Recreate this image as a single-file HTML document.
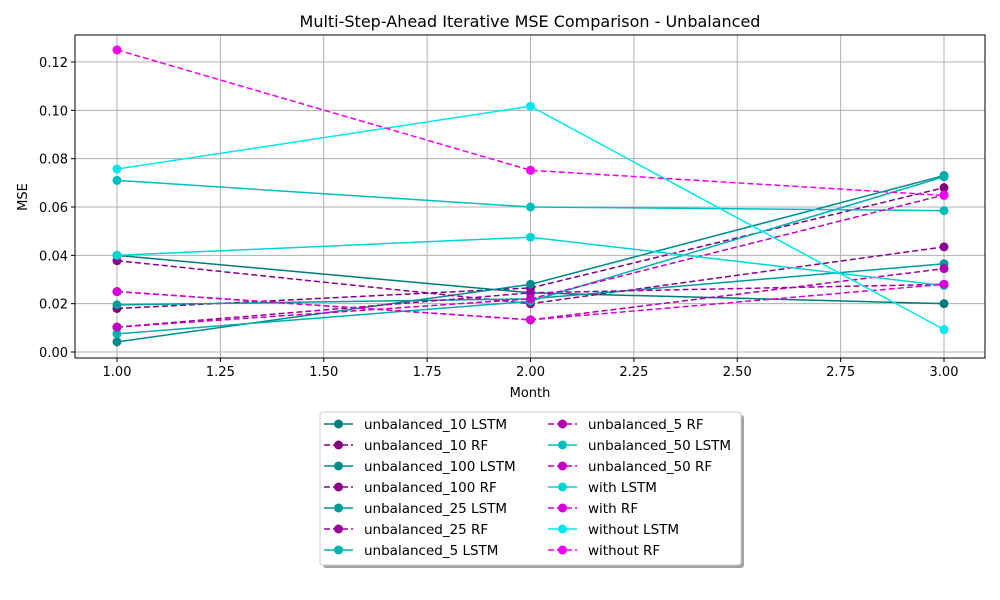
<!DOCTYPE html>
<html><head><meta charset="utf-8"><style>
body{margin:0;background:#fff;}
svg{font-family:"DejaVu Sans","Liberation Sans",sans-serif;display:block}
</style></head><body>
<svg id="chart" width="1000" height="600" viewBox="0 0 1000 600">
<rect width="1000" height="600" fill="#fff"/>
<text x="530" y="27" font-size="16" text-anchor="middle">Multi-Step-Ahead Iterative MSE Comparison - Unbalanced</text>
<g id="grid"></g>
<g id="series"></g>
<rect x="75" y="35" width="910" height="323" fill="none" stroke="#000" stroke-width="1"/>
<g id="ticks" font-size="13"></g>
<text x="530" y="397" font-size="13" text-anchor="middle">Month</text>
<text x="27" y="197" font-size="13" text-anchor="middle" transform="rotate(-90 27 197)">MSE</text>
<g id="legend">
<rect x="323" y="415" width="421" height="153" rx="3" fill="#999" opacity="0.9"/>
<rect x="320" y="412" width="421" height="153" rx="3" fill="#fff" stroke="#ccc"/>
</g>
</svg>
<script>
const months=[1,2,3];
const names=["unbalanced_10 LSTM","unbalanced_10 RF","unbalanced_100 LSTM","unbalanced_100 RF","unbalanced_25 LSTM","unbalanced_25 RF","unbalanced_5 LSTM","unbalanced_5 RF","unbalanced_50 LSTM","unbalanced_50 RF","with LSTM","with RF","without LSTM","without RF"];
const u10L=[0.040,0.0245,0.020];
const u10R=[0.018,0.0265,0.068];
const u100L=[0.0042,0.028,0.073];
const u100R=[0.0378,0.020,0.0435];
const u25L=[0.0195,0.022,0.0365];
const u25R=[0.0103,0.0245,0.028];
const u5L=[0.0075,0.021,0.0725];
const u5R=[0.025,0.0133,0.0345];
const u50L=[0.071,0.060,0.0585];
const u50R=[0.0103,0.022,0.065];
const withL=[0.040,0.0475,0.0275];
const withR=[0.025,0.0133,0.028];
const withoutL=[0.0757,0.1017,0.0093];
const withoutR=[0.125,0.0752,0.0648];
const xTicks=[1.00,1.25,1.50,1.75,2.00,2.25,2.50,2.75,3.00];
const yTicks=[0.00,0.02,0.04,0.06,0.08,0.10,0.12];
const seriesVals=[u10L,u10R,u100L,u100R,u25L,u25R,u5L,u5R,u50L,u50R,withL,withR,withoutL,withoutR];
const colors=["#007b7b","#800080","#008b8b","#8b008b","#009c9c","#9c009c","#00b0b0","#b000b0","#00bebe","#c200c2","#00d4d4","#d800d8","#00e8ee","#f000f0"];
const NS="http://www.w3.org/2000/svg";
const X=v=>117+(v-1)*413.5;
const Y=v=>352-v*2416.7;
function mk(tag,attrs,parent){const e=document.createElementNS(NS,tag);for(const k in attrs)e.setAttribute(k,attrs[k]);parent.appendChild(e);return e;}
const grid=document.getElementById('grid'),ticks=document.getElementById('ticks'),ser=document.getElementById('series'),leg=document.getElementById('legend');
xTicks.forEach(t=>{const x=X(t);
 const g=mk('line',{x1:x,x2:x,y1:35,y2:358,stroke:'#b0b0b0','stroke-width':1},grid);
 
 
 mk('line',{x1:x,x2:x,y1:358,y2:362,stroke:'#000'},ticks);
 const tx=mk('text',{x:x,y:376,'text-anchor':'middle'},ticks);tx.textContent=t.toFixed(2);
 
 
});
yTicks.forEach(t=>{const y=Y(t);
 const g=mk('line',{x1:75,x2:985,y1:y,y2:y,stroke:'#b0b0b0','stroke-width':1},grid);
 
 
 mk('line',{x1:71,x2:75,y1:y,y2:y,stroke:'#000'},ticks);
 const tx=mk('text',{x:68,y:y+5,'text-anchor':'end'},ticks);tx.textContent=t.toFixed(2);
 
 
});
seriesVals.forEach((vals,i)=>{
 const dash=names[i].endsWith('RF')?'6,3':'none';
 const g=mk('g',{},ser);
 
 
 mk('polyline',{points:vals.map((v,j)=>X(months[j])+','+Y(v)).join(' '),fill:'none',stroke:colors[i],'stroke-width':1.5,'stroke-dasharray':dash},g);
 vals.forEach((v,j)=>{const c=mk('circle',{cx:X(months[j]),cy:Y(v),r:4.5,fill:colors[i]},g);
  
  });
 const col=i<7?0:1,row=i%7;
 const lx=col?548:324,ly=424+row*21;
 const e=mk('g',{},leg);
 
 
 mk('line',{x1:lx,x2:lx+29,y1:ly,y2:ly,stroke:colors[i],'stroke-width':1.5,'stroke-dasharray':dash},e);
 mk('circle',{cx:lx+14.5,cy:ly,r:4.5,fill:colors[i]},e);
 const t=mk('text',{x:lx+40,y:ly+5,'font-size':13.5},e);t.textContent=names[i];
});
</script>
</body></html>
